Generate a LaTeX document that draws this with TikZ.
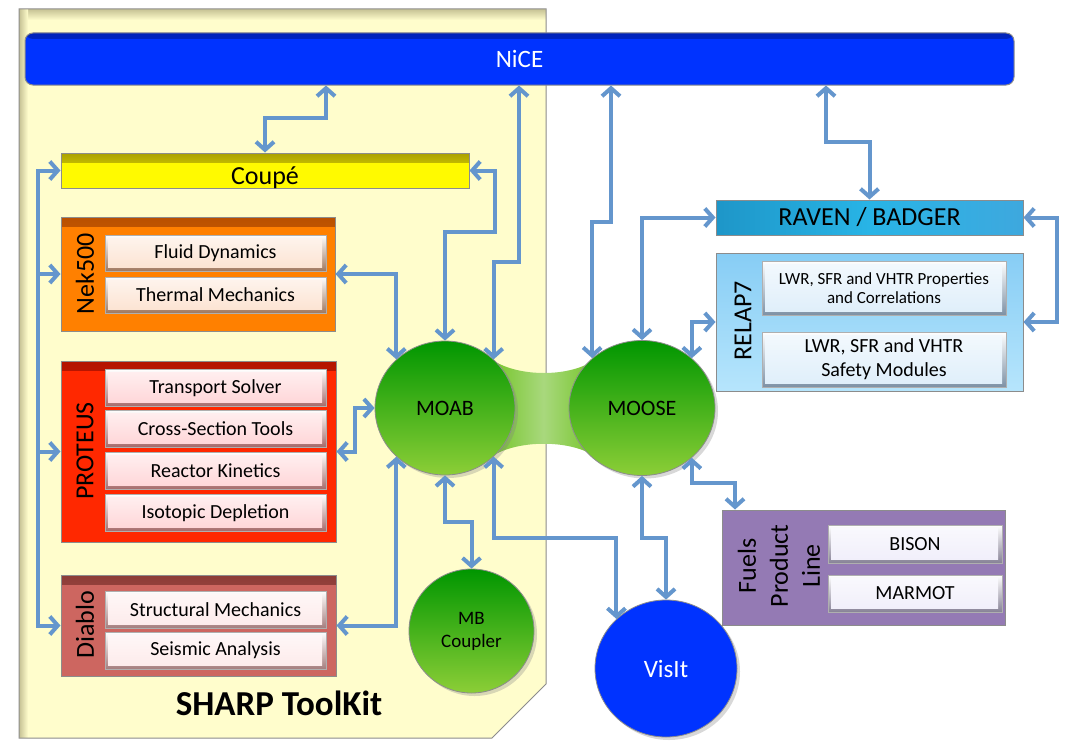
\documentclass[tikz,border=0pt]{standalone}
\usepackage{fontspec}
\setmainfont{Carlito}
\usetikzlibrary{arrows.meta,shapes.geometric,shadows}

\definecolor{arrowc}{RGB}{100,150,205}
\definecolor{panelc}{RGB}{255,253,204}
\definecolor{panelsh}{RGB}{200,196,150}
\definecolor{niceblue}{RGB}{0,51,255}
\definecolor{nicedark}{RGB}{0,35,185}
\definecolor{coupey}{RGB}{255,250,0}
\definecolor{coupedark}{RGB}{170,160,0}
\definecolor{nekc}{RGB}{255,128,0}
\definecolor{nekdark}{RGB}{185,80,0}
\definecolor{protc}{RGB}{255,40,0}
\definecolor{protdark}{RGB}{180,20,0}
\definecolor{diabc}{RGB}{205,102,96}
\definecolor{diabdark}{RGB}{140,60,55}
\definecolor{nekF}{RGB}{252,226,208}
\definecolor{nekE}{RGB}{160,120,95}
\definecolor{protF}{RGB}{255,212,214}
\definecolor{protE}{RGB}{165,105,105}
\definecolor{diabF}{RGB}{253,234,234}
\definecolor{diabE}{RGB}{165,125,125}
\definecolor{ravenc}{RGB}{40,180,230}
\definecolor{ravenr}{RGB}{62,168,222}
\definecolor{ravendark}{RGB}{30,150,200}
\definecolor{relaptop}{RGB}{135,205,245}
\definecolor{relapbot}{RGB}{182,229,252}
\definecolor{relapF}{RGB}{222,238,250}
\definecolor{relapE}{RGB}{125,145,165}
\definecolor{fuelc}{RGB}{148,122,180}
\definecolor{fuelF}{RGB}{240,238,250}
\definecolor{fuelE}{RGB}{135,130,150}
\definecolor{balltop}{RGB}{0,150,0}
\definecolor{ballbot}{RGB}{140,206,55}
\definecolor{bonec}{RGB}{120,198,45}
\definecolor{bonemid}{RGB}{168,216,125}
\definecolor{edgegray}{RGB}{140,140,140}

\tikzset{
  box/.style={draw=edgegray, line width=1pt, inner sep=0pt},
  topband/.style 2 args={fill=#2, path picture={\shade[top color=#1, bottom color=#2]
      (path picture bounding box.north west) rectangle ([yshift=-9pt]path picture bounding box.north east);}},
  btn/.style 2 args={draw=edgegray!70, line width=0.6pt, inner sep=0pt,
      font=\fontsize{20}{22}\selectfont, top color=white, bottom color=#2,
      path picture={\shade[top color=#1!35!white, bottom color=#1]
      ([shift={(3pt,-3pt)}]path picture bounding box.north west) rectangle
      ([shift={(-4pt,4pt)}]path picture bounding box.south east);}},
  vlab/.style={rotate=90, font=\fontsize{26}{31}\selectfont, inner sep=0pt, align=center},
  ball/.style={ellipse, draw=edgegray, line width=0.8pt, inner sep=0pt,
      top color=balltop, bottom color=ballbot,
      drop shadow={opacity=0.3, shadow xshift=3pt, shadow yshift=-3pt}},
  conn/.style={draw=arrowc, line width=4pt, >={Straight Barb[length=8pt,width=18pt]}, <->},
  conn1/.style={draw=arrowc, line width=4pt, >={Straight Barb[length=8pt,width=18pt]}, ->},
}

\begin{document}
\begin{tikzpicture}[x=1pt,y=-1pt]
\fill[white] (0,0) rectangle (1091,752);
\useasboundingbox (0,0) rectangle (1091,752);

% SHARP panel
\fill[panelc] (19,9) -- (546,9) -- (546,684) -- (492,738) -- (19,738) -- cycle;
\shade[top color=panelsh, bottom color=panelc] (19.5,9.5) rectangle (545.5,20);
\shade[left color=panelsh, right color=panelc] (19.5,9.5) rectangle (28,737.5);
\draw[edgegray, line width=1pt] (19,9) -- (546,9) -- (546,684) -- (492,738) -- (19,738) -- cycle;
\node[font=\bfseries\fontsize{35}{40}\selectfont] (sharp) at (279,703) {SHARP ToolKit};

% NiCE
\node[box, rounded corners=8pt, minimum width=989pt, minimum height=52pt,
      fill=niceblue, path picture={\shade[top color=nicedark, bottom color=niceblue]
      (path picture bounding box.north west) rectangle ([yshift=-6pt]path picture bounding box.north east);},
      text=white, font=\fontsize{25}{30}\selectfont] (nice) at (519.5,59) {NiCE};

% Coupe
\node[box, minimum width=408pt, minimum height=35pt, topband={coupedark}{coupey},
      font=\fontsize{26}{30}\selectfont] (coupe) at (265,170.5) {\raisebox{-14pt}[0pt][0pt]{Coupé}};

% Nek500
\node[box, minimum width=274pt, minimum height=114pt, topband={nekdark}{nekc}] (nek) at (198,274) {};
\node[vlab] (neklab) at (85,274) {Nek500};
\node[btn={nekF}{nekE}, minimum width=221pt, minimum height=36pt] (nekfd) at (215.5,253) {Fluid Dynamics};
\node[btn={nekF}{nekE}, minimum width=221pt, minimum height=36pt] (nektm) at (215.5,295) {Thermal Mechanics};

% PROTEUS
\node[box, minimum width=275pt, minimum height=181pt, topband={protdark}{protc}] (proteus) at (198.5,451.5) {};
\node[vlab] (protlab) at (85,451) {PROTEUS};
\node[btn={protF}{protE}, minimum width=221pt, minimum height=37pt] (pts) at (215.5,388) {Transport Solver};
\node[btn={protF}{protE}, minimum width=221pt, minimum height=37pt] (pcs) at (215.5,428.5) {Cross-Section Tools};
\node[btn={protF}{protE}, minimum width=221pt, minimum height=37pt] (prk) at (215.5,471) {Reactor Kinetics};
\node[btn={protF}{protE}, minimum width=221pt, minimum height=37pt] (pid) at (215.5,513) {Isotopic Depletion};

% Diablo
\node[box, minimum width=275pt, minimum height=101pt, topband={diabdark}{diabc}] (diablo) at (198.5,625.5) {};
\node[vlab] (diablab) at (85,625) {Diablo};
\node[btn={diabF}{diabE}, minimum width=221pt, minimum height=37pt] (dsm) at (215.5,609.5) {Structural Mechanics};
\node[btn={diabF}{diabE}, minimum width=221pt, minimum height=37pt] (dsa) at (215.5,650.5) {Seismic Analysis};

% RAVEN / BADGER
\node[box, minimum width=307pt, minimum height=35pt, left color=ravendark, right color=ravenr,
      middle color=ravenc, font=\fontsize{26}{30}\selectfont] (raven) at (869.5,217.5) {RAVEN / BADGER};

% RELAP7
\node[box, minimum width=307pt, minimum height=138pt, top color=relaptop, bottom color=relapbot] (relap) at (869.5,322) {};
\node[vlab] (relaplab) at (743,321) {RELAP7};
\node[btn={relapF}{relapE}, minimum width=244pt, minimum height=54pt, align=center,
      font=\fontsize{17}{19}\selectfont] (rprop) at (884,288) {LWR, SFR and VHTR Properties\\and Correlations};
\node[btn={relapF}{relapE}, minimum width=244pt, minimum height=55pt, align=center,
      font=\fontsize{20}{24}\selectfont] (rsafe) at (884,359.5) {LWR, SFR and VHTR\\Safety Modules};

% Fuels Product Line
\node[box, minimum width=283pt, minimum height=115pt, fill=fuelc] (fuels) at (863.5,567.5) {};
\node[vlab, font=\fontsize{26}{32}\selectfont] (fuellab) at (779,566) {Fuels\\Product\\Line};
\node[btn={fuelF}{fuelE}, minimum width=174pt, minimum height=38pt] (bison) at (915,544) {BISON};
\node[btn={fuelF}{fuelE}, minimum width=174pt, minimum height=37pt] (marmot) at (915,593.5) {MARMOT};

% bridge between MOAB and MOOSE
\shade[left color=bonec, right color=bonec, middle color=bonemid]
  (494,361) .. controls (520,377) and (568,377) .. (593,361) -- (593,455)
  .. controls (568,440) and (520,440) .. (494,455) -- cycle;

% circles
\node[ball, minimum width=140pt, minimum height=134pt, font=\fontsize{22}{26}\selectfont] (moab) at (445,408) {MOAB};
\node[ball, minimum width=146pt, minimum height=135pt, font=\fontsize{22}{26}\selectfont] (moose) at (642,408) {MOOSE};
\node[ball, minimum width=125pt, minimum height=124pt, align=center, font=\fontsize{19}{23}\selectfont] (mb) at (471.5,631) {MB\\Coupler};
\node[ellipse, draw=edgegray, line width=0.8pt, inner sep=0pt, fill=niceblue, text=white,
      drop shadow={opacity=0.3, shadow xshift=3pt, shadow yshift=-3pt},
      minimum width=142pt, minimum height=137pt, font=\fontsize{25}{30}\selectfont] (visit) at (666,668.5) {VisIt};

% helper points
\coordinate (c1) at (326,118);
\coordinate (busT) at (38,170.5);
\coordinate (busB) at (38,625.5);
\coordinate (c3) at (495,232);
\coordinate (c4) at (519,262);
\coordinate (c6) at (355,408);
\coordinate (c8) at (445,522);
\coordinate (y538) at (0,538);
\coordinate (c11) at (735,483);
\coordinate (c12) at (611,222);
\coordinate (c15) at (826,142);
\coordinate (c16) at (1057,0);

% connectors
\draw[conn] (nice.south -| c1) -- (c1) -| (coupe.north);
\draw[draw=arrowc, line width=4pt, line cap=rect] (busT) -- (busB);
\draw[conn1] (busT) -- (coupe.west);
\draw[conn1] (busT |- nek.west) -- (nek.west);
\draw[conn1] (busT |- proteus.west) -- (proteus.west);
\draw[conn1] (busB) -- (diablo.west);
\draw[conn] (coupe.east) -| (c3) -| (moab.north);
\draw[conn] (nice.south -| c4) -- (c4) -| (moab.45);
\draw[conn] (nek.east) -| (moab.135);
\draw[conn] (moab.west) -- (c6) |- (proteus.east);
\draw[conn] (diablo.east) -| (moab.225);
\draw[conn] (moab.south) -- (c8) -| (mb.north);
\draw[conn] (moab.315) |- (visit.135 |- y538) -- (visit.135);
\draw[conn] (moose.south) |- (visit.north |- y538) -- (visit.north);
\draw[conn] (moose.315) |- (c11) -- (c11 |- fuels.north);
\draw[conn] (nice.south -| c12) -- (c12) -| (moose.135);
\draw[conn] (moose.north) |- (raven.west);
\draw[conn] (moose.45) |- (relap.west);
\draw[conn] (nice.south -| c15) -- (c15) -| (raven.north);
\draw[conn] (raven.east) -| (c16 |- relap.east) -- (relap.east);
\end{tikzpicture}
\end{document}
